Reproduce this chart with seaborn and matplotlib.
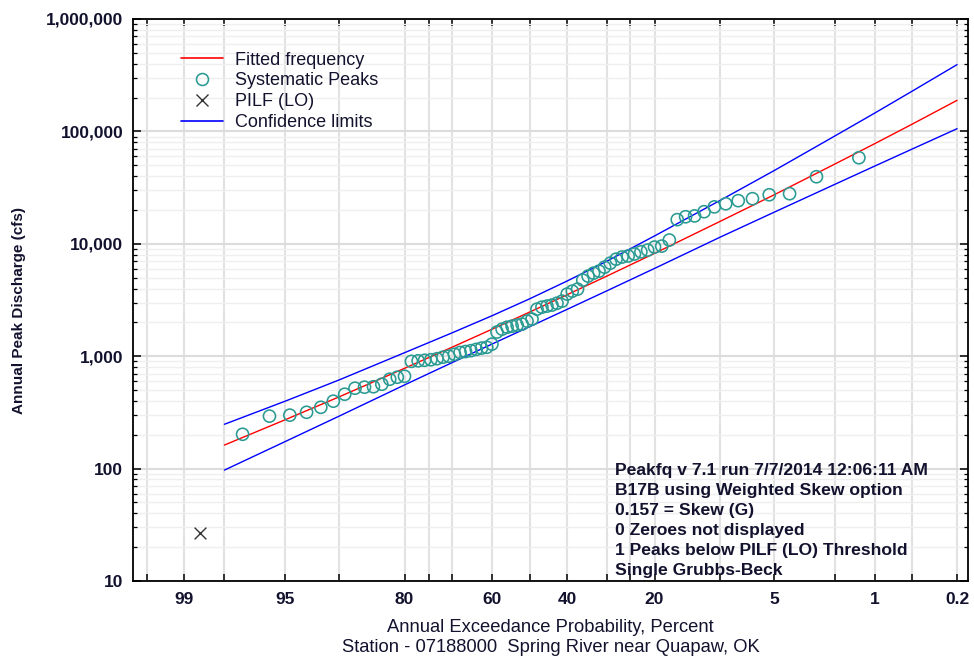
import numpy as np
import pandas as pd
import seaborn as sns
import matplotlib
matplotlib.use("Agg")
import matplotlib.pyplot as plt
from matplotlib.lines import Line2D
from matplotlib.ticker import FixedLocator, FuncFormatter, LogLocator, NullFormatter
from statistics import NormalDist

# ---------------- data ----------------
# Systematic peaks: annual exceedance probability (percent) and discharge (cfs)
peak_aep = [1.33, 2.67, 4.0, 5.33, 6.67, 8.0, 9.33, 10.67, 12.0, 13.33, 14.67, 16.0,
            17.33, 18.67, 20.0, 21.33, 22.67, 24.0, 25.33, 26.67, 28.0, 29.33, 30.67,
            32.0, 33.33, 34.67, 36.0, 37.33, 38.67, 40.0, 41.33, 42.67, 44.0, 45.33,
            46.67, 48.0, 49.33, 50.67, 52.0, 53.33, 54.67, 56.0, 57.33, 58.67, 60.0,
            61.33, 62.67, 64.0, 65.33, 66.67, 68.0, 69.33, 70.67, 72.0, 73.33, 74.67,
            76.0, 77.33, 78.67, 80.0, 81.33, 82.67, 84.0, 85.33, 86.67, 88.0, 89.33,
            90.67, 92.0, 93.33, 94.67, 96.0, 97.33]
peak_cfs = [58300, 39500, 27900, 27300, 25200, 24200, 22700, 21300, 19300, 17700, 17400, 16400,
            10800, 9540, 9350, 8790, 8480, 8110, 7790, 7620, 7300, 6730, 6200,
            5710, 5480, 5160, 4750, 3950, 3790, 3570, 3090, 2960, 2850, 2790,
            2730, 2620, 2135, 2050, 1930, 1890, 1850, 1810, 1740, 1640, 1280,
            1200, 1180, 1150, 1120, 1100, 1080, 1040, 1000, 980, 950, 930,
            920, 910, 900, 663, 650, 624, 563, 535, 530, 519, 459,
            398, 351, 317, 299, 293, 202]

# Potentially influential low flood (low outlier)
pilf_aep = [98.67]
pilf_cfs = [27]

# Fitted frequency curve and confidence limits
curve_aep = [98, 95, 90, 80, 70, 60, 50, 40, 30, 20, 10, 5, 2, 1, 0.5, 0.2]
fit_cfs = [162, 272, 435, 780, 1197, 1736, 2466, 3524, 5190, 8220, 15800, 27200,
           51100, 78100, 116000, 189000]
upper_cfs = [248, 398, 615, 1074, 1607, 2288, 3236, 4667, 7047, 11750, 24270, 44670,
             90780, 146200, 228000, 392700]
lower_cfs = [97, 174, 293, 555, 873, 1281, 1828, 2612, 3837, 6039, 11430, 19050,
             33730, 49320, 69660, 105700]

x_ticks = [99.5, 99, 98, 95, 90, 80, 75, 70, 60, 50, 40, 30, 25, 20, 10, 5, 2, 1, 0.5, 0.2]
x_labelled = {"99": "99", "95": "95", "80": "80", "60": "60", "40": "40", "20": "20",
              "5": "5", "1": "1", "0.2": "0.2"}
y_ticks = [10, 100, 1000, 10000, 100000, 1000000]

info_lines = ["Peakfq v 7.1 run 7/7/2014 12:06:11 AM",
              "B17B using Weighted Skew option",
              "0.157 = Skew (G)",
              "0 Zeroes not displayed",
              "1 Peaks below PILF (LO) Threshold",
              "Single Grubbs-Beck"]

# ---------------- style ----------------
sns.set_style("ticks")
plt.rcParams["font.family"] = ["Liberation Sans", "DejaVu Sans"]
TXT = "#12122e"
TEAL = "#2a9a92"

fig = plt.figure(figsize=(9.74, 6.63), dpi=100)
W, H = 974, 663
L, R, T, B = 133, 968, 19, 581
ax = fig.add_axes([L / W, 1 - B / H, (R - L) / W, (B - T) / H])

# normal-probability x scale (exceedance percent), increasing transform, axis inverted
_nd = NormalDist()
_f = np.vectorize(lambda v: _nd.inv_cdf(v / 100.0), otypes=[float])
_i = np.vectorize(lambda v: 100.0 * _nd.cdf(v), otypes=[float])


def fwd(p):
    p = np.clip(np.asarray(p, dtype=float), 1e-5, 100 - 1e-5)
    return _f(p)


def inv(z):
    return _i(np.asarray(z, dtype=float))


ax.set_xscale("function", functions=(fwd, inv))
ax.set_yscale("log")

curves = pd.DataFrame({"aep": curve_aep, "fit": fit_cfs, "up": upper_cfs, "lo": lower_cfs})
peaks = pd.DataFrame({"aep": peak_aep, "cfs": peak_cfs})
pilf = pd.DataFrame({"aep": pilf_aep, "cfs": pilf_cfs})

sns.lineplot(data=curves, x="aep", y="fit", ax=ax, color="#ff0000", lw=1.0,
             sort=False, estimator=None, zorder=3)
sns.lineplot(data=curves, x="aep", y="up", ax=ax, color="#0000ff", lw=1.0,
             sort=False, estimator=None, zorder=3)
sns.lineplot(data=curves, x="aep", y="lo", ax=ax, color="#0000ff", lw=1.0,
             sort=False, estimator=None, zorder=3)
sns.scatterplot(data=peaks, x="aep", y="cfs", ax=ax, marker="o", s=76,
                facecolors="none", edgecolors=TEAL, linewidths=1.15, zorder=4)
sns.scatterplot(data=pilf, x="aep", y="cfs", ax=ax, marker="x", s=72,
                color="#333333", linewidths=1.0, zorder=4)

ax.set_xlim(99.62, 0.158)
ax.set_ylim(10, 1e6)


def xfmt(v, pos):
    key = f"{v:g}"
    return x_labelled.get(key, "")


ax.xaxis.set_major_locator(FixedLocator(x_ticks))
ax.xaxis.set_major_formatter(FuncFormatter(xfmt))
ax.xaxis.set_minor_locator(FixedLocator([]))
ax.yaxis.set_major_locator(FixedLocator(y_ticks))
ax.yaxis.set_major_formatter(FuncFormatter(lambda v, pos: f"{int(round(v)):,}"))
ax.yaxis.set_minor_locator(LogLocator(base=10, subs=np.arange(2, 10), numticks=20))
ax.yaxis.set_minor_formatter(NullFormatter())

ax.tick_params(axis="both", which="both", direction="in", top=True, right=True,
               colors="black", labelcolor=TXT)
ax.tick_params(axis="x", which="major", length=5, width=1.1, pad=8, labelsize=12.5)
ax.tick_params(axis="y", which="major", length=6, width=1.1, pad=7, labelsize=12.5)
ax.tick_params(axis="y", which="minor", length=3, width=0.9)
for lab in ax.get_xticklabels() + ax.get_yticklabels():
    lab.set_fontweight("bold")

ax.grid(True, axis="x", which="major", color="#e2e2e2", lw=1.5, zorder=0)
ax.grid(True, axis="y", which="major", color="#dcdcdc", lw=1.5, zorder=0)
ax.grid(True, axis="y", which="minor", color="#efefef", lw=1.0, zorder=0)
ax.set_axisbelow(True)
for s in ax.spines.values():
    s.set_color("black")
    s.set_linewidth(1.3)

ax.set_xlabel("")
ax.set_ylabel("")

# axis titles
fig.text(550.5 / W, 1 - 627 / H, "Annual Exceedance Probability, Percent",
         ha="center", va="center", fontsize=13.2, color=TXT)
fig.text(550.5 / W, 1 - 647 / H, "Station - 07188000  Spring River near Quapaw, OK",
         ha="center", va="center", fontsize=13.2, color=TXT)
fig.text(19 / W, 1 - 310 / H, "Annual Peak Discharge (cfs)", rotation=90,
         ha="center", va="center", fontsize=11, fontweight="bold", color=TXT)

# info block
info_y = [470.5, 490.5, 510.5, 530.5, 550.5, 571]
for yy, line in zip(info_y, info_lines):
    fig.text(615 / W, 1 - yy / H, line, ha="left", va="center", fontsize=12.6,
             fontweight="bold", color=TXT)

# legend
handles = [Line2D([], [], color="#ff0000", lw=1.2),
           Line2D([], [], ls="", marker="o", mfc="none", mec=TEAL, ms=8.6, mew=1.15),
           Line2D([], [], ls="", marker="x", color="#333333", ms=8.6, mew=1.0),
           Line2D([], [], color="#0000ff", lw=1.2)]
labels = ["Fitted frequency", "Systematic Peaks", "PILF (LO)", "Confidence limits"]
leg = ax.legend(handles, labels, loc="upper left", bbox_to_anchor=(0.049, 0.955),
                frameon=False, fontsize=13, handlelength=2.3, handletextpad=0.7,
                labelspacing=0.22, borderaxespad=0.0, borderpad=0.4)
for t in leg.get_texts():
    t.set_color(TXT)

fig.savefig("out.png", dpi=100, facecolor="white")
